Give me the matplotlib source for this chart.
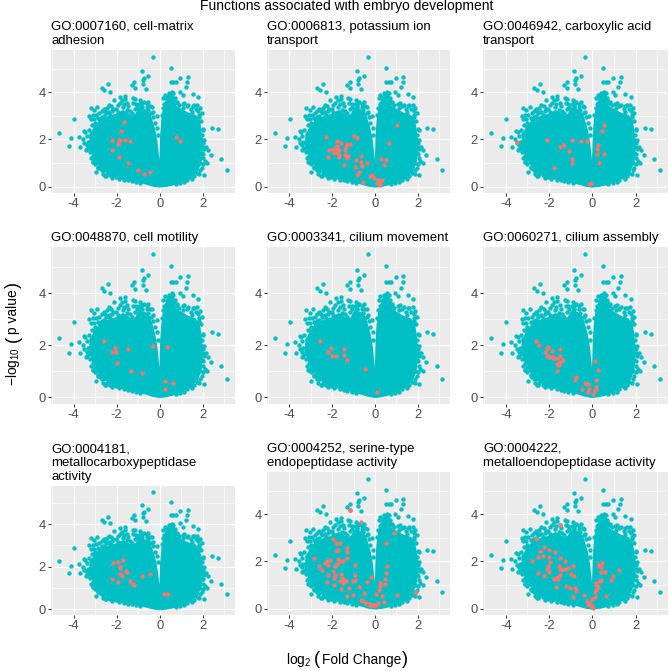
#!/usr/bin/env python3
"""Volcano plots of GO terms associated with embryo development."""

import matplotlib
matplotlib.use('Agg')  # Use non-GUI backend
import matplotlib.pyplot as plt

plt.rcParams['font.family'] = ['Liberation Sans', 'DejaVu Sans']
plt.rcParams['mathtext.fontset'] = 'custom'
plt.rcParams['mathtext.rm'] = 'Liberation Sans'
plt.rcParams['mathtext.it'] = 'Liberation Sans'
plt.rcParams['mathtext.bf'] = 'Liberation Sans'
plt.rcParams['axes.unicode_minus'] = False

TEAL = '#00BFC4'
RED = '#F8766D'
W, H = 669, 671

# Outline of the solid part of the cloud, where single genes cannot be told apart
core_x = [0.02, 0.05, 0.07, 0.12, 0.18, 0.30, 0.45, 0.62, 0.72, 1.00, 1.30, 1.65, 1.82, 1.88, 1.95,
          1.95, 1.90, 1.75, 1.45, 1.00, 0.60, 0.30, 0.00, -0.30, -0.60, -1.00, -1.50, -2.00, -2.30,
          -2.60, -2.90, -3.10, -3.25, -3.20, -3.05, -2.80, -2.40, -2.00, -1.70, -1.50, -1.30, -1.10,
          -0.95, -0.70, -0.50, -0.38, -0.25, -0.15, -0.07, -0.03]
core_y = [0.80, 1.50, 2.20, 2.80, 3.20, 3.60, 3.95, 3.90, 3.40, 3.25, 3.10, 3.00, 2.80, 2.50, 2.00,
          1.50, 1.05, 0.70, 0.42, 0.22, 0.09, 0.03, 0.00, 0.04, 0.12, 0.22, 0.33, 0.45, 0.55,
          0.70, 1.10, 1.40, 1.80, 2.20, 2.45, 2.75, 2.95, 3.05, 3.20, 3.10, 2.95, 3.05,
          3.30, 3.25, 3.10, 2.80, 2.40, 1.90, 1.20, 0.80]

# Genes that stand clear of the core, same in every panel
gene_x = [-0.33, 0.51, -0.84, -0.54, -0.73, -0.79, -1.18, -1.30, -0.79, -0.65, -1.15, -2.42, -2.70,
          -2.57, -2.29, 1.32, 0.96, 0.51, 0.64, 0.74, 1.29, 1.21, 0.95, 1.07, 1.53, 1.77, -3.98,
          -4.67, -4.11, -4.23, -3.75, -3.69, -3.53, -3.43, -3.21, -3.27, -3.09, -3.05, -2.90, 2.43,
          2.71, 2.03, 2.87, 3.13, -2.98, -2.78, -2.50, -3.30, -3.20, -3.40, -3.55, -3.35, -3.20,
          -3.30, -3.05, -3.10, -3.00, -2.90, -2.75, -2.60, -3.00, -3.00, -2.85, -2.70, -2.70, -2.60,
          -2.50, -2.35, -2.20, -2.12, -1.84, -1.61, -1.61, -2.36, -2.03, -1.66, -1.72, -1.53, -1.26,
          -1.15, -1.22, -0.91, -0.73, -0.53, -0.36, -0.33, -0.14, -0.53, -1.07, -0.84, -0.60, -0.99,
          -0.68, 0.25, 0.17, 0.48, 0.64, 0.28, 0.67, 0.79, 1.07, 1.33, 1.53, 1.75, 1.88, 1.84, 1.84,
          1.95, 2.06, 1.88, 2.14, 2.26, 2.37, 2.22, 2.06, 1.88, 2.03, 1.95, 2.03, 1.88, 1.72, 1.41,
          1.13, -2.08, -1.97, -1.81, -2.17, -1.60, -1.37, -1.06, -2.25, -2.55, -2.62, -2.85, -3.12,
          -3.45, -3.50, -3.40, -3.38, -3.25, -3.20, -3.10, -3.00, -2.85, -2.70, -2.65, -2.45, -2.30,
          -2.20, -2.05, -1.90, -1.75, -1.65, -1.45, -1.30, -1.10, -0.90, -3.15, -3.20, -3.05, -2.95,
          -2.80, -2.55, -2.45, -2.25, -2.15, -1.95, -1.85, -1.75, -1.50, -1.45, -1.40, -1.30, -1.15,
          -1.10, -0.95, -0.80, -0.60, -0.45, -0.40, -0.30, -0.22, -0.12, -0.10, 0.10, 0.15, 0.22,
          0.35, 0.42, 0.55, 0.70, 0.80, 0.90, 1.15, 1.25, 1.45, 1.60, 1.70, 1.80, 1.95, 1.92, 2.00,
          1.98, 2.02, 2.05, 2.00, 2.10, 2.00, 1.95, 1.85, 1.60, 1.50, 1.25, 0.95, 0.75,
          -2.80, -2.60, -2.30, -1.95, 1.10, 1.50, -0.85, -0.55]
gene_y = [5.51, 5.04, 4.89, 4.70, 4.59, 4.52, 4.45, 4.31, 4.34, 4.14, 4.18, 4.35, 4.19,
          4.10, 4.03, 4.66, 4.62, 4.45, 4.42, 4.42, 4.43, 4.21, 4.03, 3.88, 3.93, 3.79, 2.88,
          2.29, 2.05, 1.71, 2.12, 1.69, 2.37, 1.55, 3.35, 3.01, 3.04, 3.25, 3.39, 2.49,
          2.43, 2.39, 1.19, 0.71, 0.62, 0.78, 0.47, 2.40, 2.25, 2.15, 2.00, 1.90, 1.75,
          1.65, 1.50, 1.30, 1.15, 1.05, 0.95, 0.80, 2.70, 2.55, 2.90, 2.95, 3.20, 3.30,
          3.10, 3.15, 3.20, 3.67, 3.81, 3.86, 3.71, 3.46, 3.30, 3.49, 3.36, 3.25, 3.74,
          3.70, 3.53, 3.67, 3.60, 3.60, 3.39, 3.18, 2.99, 3.04, 3.39, 3.39, 3.39, 3.10,
          3.18, 3.88, 3.74, 3.91, 3.95, 3.53, 3.67, 3.53, 3.50, 3.46, 3.42, 3.46, 3.32, 3.04, 2.94,
          1.98, 1.98, 1.84, 1.69, 1.55, 1.34, 0.99, 0.49, 0.71, 1.20, 1.41, 1.69, 0.99, 0.56, 0.42,
          0.21, 0.56, 0.53, 0.42, 0.50, 0.43, 0.35, 0.28, 0.72, 0.47, 0.68, 0.85, 1.05,
          2.30, 1.85, 1.75, 1.60, 1.45, 1.20, 1.05, 0.95, 0.80, 0.70, 0.55, 0.55, 0.48,
          0.38, 0.42, 0.33, 0.42, 0.30, 0.27, 0.25, 0.20, 0.15, 2.60, 2.85, 2.85, 3.05,
          3.10, 3.20, 3.35, 3.40, 3.30, 3.45, 3.55, 3.65, 3.55, 3.40, 3.20, 3.10, 3.30,
          3.50, 3.50, 3.55, 3.50, 3.40, 3.10, 2.95, 2.70, 2.50, 2.20, 3.05, 3.35, 3.50,
          3.75, 3.95, 4.00, 3.75, 3.60, 3.45, 3.55, 3.40, 3.30, 3.45, 3.30, 3.20, 3.10, 2.80, 2.45,
          2.20, 1.85, 1.60, 1.40, 1.10, 0.95, 0.80, 0.55, 0.45, 0.33, 0.30, 0.15, 0.10,
          2.85, 2.98, 3.05, 3.15, 3.35, 3.15, 3.40, 3.25]

titles = ['GO:0007160, cell-matrix\nadhesion', 'GO:0006813, potassium ion\ntransport',
          'GO:0046942, carboxylic acid\ntransport', 'GO:0048870, cell motility',
          'GO:0003341, cilium movement', 'GO:0060271, cilium assembly',
          'GO:0004181,\nmetallocarboxypeptidase\nactivity', 'GO:0004252, serine-type\nendopeptidase activity',
          'GO:0004222,\nmetalloendopeptidase activity']

# Genes in each GO term: (log2 fold change, -log10 p)
hits = [
    [(-1.66, 2.73), (-1.78, 2.34), (-2.22, 1.96), (-1.88, 1.98), (-1.85, 1.96), (-1.60, 1.96), (-1.40, 1.93),
     (-1.94, 1.79), (-2.22, 1.55), (-1.88, 1.27), (-1.49, 0.99), (-1.02, 0.69), (-0.74, 0.54), (-0.45, 0.64),
     (0.76, 2.12), (0.96, 1.94)],
    [(-2.31, 2.09), (-1.77, 1.92), (-0.99, 2.16), (-0.84, 2.06), (1.04, 2.60), (0.65, 1.84), (-1.61, 1.86),
     (-1.33, 1.81), (-1.15, 1.79), (-1.38, 1.67), (-1.41, 1.55), (-2.14, 1.54), (-1.98, 1.58), (-1.88, 1.65),
     (-1.77, 1.72), (-1.83, 1.62), (-1.70, 1.57), (-1.92, 1.44), (-1.77, 1.44), (-1.67, 1.34), (-1.70, 1.24),
     (-2.21, 1.24), (-1.41, 1.33), (-1.26, 1.30), (-1.33, 1.20), (-1.44, 0.93), (-0.65, 1.30), (-0.87, 1.12),
     (-0.67, 1.06), (-0.94, 0.85), (-0.59, 0.88), (-0.36, 0.99), (-0.74, 0.64), (-0.84, 0.48), (-0.25, 0.47),
     (-0.15, 0.51), (-0.06, 0.37), (-0.56, 0.21), (0.12, 0.27), (0.31, 0.27), (0.25, 0.23), (0.08, 0.17),
     (0.25, 0.07), (0.26, 1.17), (0.53, 1.12), (0.43, 0.90)],
    [(-3.47, 1.88), (-2.08, 1.96), (-0.95, 1.96), (-0.54, 1.93), (-0.23, 1.92), (-1.32, 1.77), (-1.50, 1.67),
     (-1.09, 1.50), (-0.95, 1.19), (-0.95, 0.99), (-1.77, 0.81), (0.53, 2.60), (0.47, 2.34), (0.26, 1.75),
     (0.20, 1.60), (0.20, 1.38), (0.54, 1.38), (0.31, 0.99), (-0.17, 0.13), (-0.05, 0.16)],
    [(-2.60, 2.15), (-2.08, 1.90), (-2.20, 1.74), (-2.02, 1.74), (-1.49, 1.85), (-0.31, 1.95), (0.33, 1.94),
     (-1.97, 1.31), (-1.32, 1.00), (-0.84, 0.94), (0.26, 0.60), (0.60, 0.53), (0.26, 0.31)],
    [(-2.58, 2.15), (-2.06, 1.90), (-2.18, 1.74), (-2.03, 1.59), (-1.82, 1.59), (-1.47, 1.85), (-1.45, 1.61),
     (-1.33, 1.44), (-0.49, 1.07), (0.08, 0.19)],
    [(-2.60, 2.16), (-2.44, 1.99), (-2.04, 1.93), (-2.09, 1.90), (-1.49, 1.85), (-1.86, 1.76), (-2.20, 1.72),
     (-2.09, 1.59), (-2.01, 1.54), (-1.86, 1.54), (-1.75, 1.52), (-1.63, 1.50), (-1.50, 1.57), (-1.36, 1.44),
     (-1.47, 1.35), (-1.63, 1.29), (-1.55, 1.22), (-1.61, 1.00), (0.12, 1.38), (0.26, 1.05), (-0.76, 0.76),
     (-0.82, 0.64), (-0.33, 0.53), (-0.20, 0.50), (-0.47, 0.32), (-0.15, 0.32), (-0.20, 0.21), (0.05, 0.13),
     (0.16, 0.64), (0.16, 0.39), (0.19, 0.32), (0.14, 0.26)],
    [(-2.16, 2.15), (-1.92, 2.21), (-1.72, 2.32), (-1.84, 1.99), (-1.84, 1.94), (-1.58, 1.82), (-1.50, 1.74),
     (-1.84, 1.65), (-1.74, 1.55), (-2.22, 1.41), (-1.95, 1.27), (-1.40, 1.33), (-1.22, 1.18), (-1.19, 1.14),
     (-0.84, 1.58), (-0.43, 1.65), (0.22, 0.71), (0.40, 0.72)],
    [(-1.16, 4.18), (-0.68, 3.66), (0.87, 3.19), (0.50, 2.78), (-1.95, 2.94), (-1.82, 2.80), (-1.64, 2.80),
     (-1.31, 2.57), (-1.31, 2.40), (-1.72, 2.47), (-1.82, 2.44), (-2.87, 2.15), (-1.30, 2.15), (-1.73, 2.10),
     (-1.64, 2.00), (-1.52, 2.00), (-2.10, 2.05), (-2.26, 2.00), (-2.33, 1.93), (-2.18, 1.86), (-1.79, 1.90),
     (-1.86, 1.79), (-2.64, 1.82), (-2.49, 1.65), (-0.96, 1.86), (0.57, 1.81), (-1.95, 1.58), (-2.18, 1.41),
     (-1.87, 1.44), (-1.92, 1.30), (-1.58, 1.47), (-1.56, 1.30), (-1.41, 1.23), (-0.96, 1.44), (-1.05, 1.19),
     (-0.93, 1.21), (-2.23, 1.12), (-1.64, 1.16), (-1.49, 1.09), (-1.92, 1.02), (-1.36, 1.16), (-1.61, 0.85),
     (-1.22, 0.88), (-0.74, 0.90), (-0.39, 1.12), (-0.19, 1.34), (0.51, 1.51), (0.45, 1.26), (0.45, 1.06),
     (0.25, 1.09), (0.22, 0.95), (0.19, 0.80), (0.02, 0.64), (-0.53, 0.66), (-1.30, 0.52), (-1.02, 0.59),
     (0.31, 0.52), (1.02, 0.59), (1.92, 0.71), (-0.64, 0.35), (-0.56, 0.31), (-0.43, 0.24), (-0.22, 0.21),
     (-0.09, 0.17), (0.02, 0.14), (0.12, 0.24), (0.40, 0.28), (-0.06, 0.10), (-0.25, 0.14)],
    [(-1.50, 3.56), (-2.60, 2.97), (-2.21, 2.61), (-2.40, 2.46), (-2.00, 2.47), (-1.72, 2.42), (-2.80, 2.00),
     (-2.52, 2.19), (-2.27, 2.22), (-2.00, 2.19), (-1.47, 2.16), (-1.25, 2.02), (-1.96, 1.99), (-0.88, 1.82),
     (-2.06, 1.79), (-1.53, 1.82), (-1.13, 1.72), (-1.28, 1.68), (-1.39, 1.65), (-1.50, 1.68), (-2.09, 1.69),
     (-2.50, 1.51), (-2.00, 1.54), (-2.21, 1.40), (-0.98, 1.47), (-0.85, 1.37), (-1.50, 1.44), (-1.60, 1.34),
     (-1.69, 1.31), (-1.78, 1.25), (-1.60, 1.25), (-1.69, 0.92), (-1.21, 0.97), (-1.05, 0.89), (-0.79, 0.86),
     (-0.76, 0.73), (-0.88, 0.48), (-0.36, 0.57), (0.33, 1.88), (0.47, 1.92), (0.39, 1.77), (0.31, 1.82),
     (0.42, 1.54), (0.60, 1.55), (1.22, 1.64), (0.96, 1.37), (0.85, 1.20), (0.39, 1.23), (0.36, 1.16),
     (0.19, 1.09), (0.17, 0.99), (0.26, 0.92), (0.19, 0.80), (0.14, 0.69), (0.64, 0.52), (0.11, 0.49),
     (-0.02, 0.41), (-0.23, 0.32), (-0.14, 0.24), (-0.08, 0.17), (0.00, 0.10), (-0.20, 0.21), (0.05, 0.03)],
]

# Panel edges in pixels of the figure: left, right, top, bottom
col_edges = [(51, 235), (267, 450), (483, 668)]
row_edges = [(50, 193), (247, 404), (472, 615)]


def draw_panel(ax, title, points):
    """Draw one volcano panel with its GO term on top."""
    ax.set_facecolor('#EBEBEB')
    for side in ax.spines.values():
        side.set_visible(False)
    ax.set_axisbelow(True)
    ax.set_xlim(-5.05, 3.5)
    ax.set_ylim(-0.27, 5.79)
    ax.set_xticks([-4, -2, 0, 2])
    ax.set_yticks([0, 2, 4])
    ax.set_xticks([-5, -3, -1, 1, 3], minor=True)
    ax.set_yticks([1, 3, 5], minor=True)
    ax.grid(which='major', color='white', lw=0.8)
    ax.grid(which='minor', color='white', lw=0.4)
    ax.tick_params(which='minor', length=0)
    ax.tick_params(which='major', length=2.2, width=0.7, color='#333333',
                   labelcolor='#4D4D4D', labelsize=9.4, pad=1.5)

    ax.fill(core_x, core_y, color=TEAL, lw=1.5, zorder=2)
    ax.scatter(gene_x, gene_y, s=10, color=TEAL, linewidths=0, zorder=3)
    ax.scatter([p[0] for p in points], [p[1] for p in points], s=10, color=RED, linewidths=0, zorder=4)
    ax.set_title(title, loc='left', fontsize=9.45, color='black', pad=4.5, linespacing=1.2)


def main():
    fig = plt.figure(figsize=(W / 100, H / 100), dpi=100)

    for i, (title, points) in enumerate(zip(titles, hits)):
        left, right = col_edges[i % 3]
        top, bottom = row_edges[i // 3]
        if i == 6:
            top = 486  # three line title takes more room
        ax = fig.add_axes([left / W, 1 - bottom / H, (right - left) / W, (bottom - top) / H])
        draw_panel(ax, title, points)

    fig.text(347 / W, 1 - 6 / H, 'Functions associated with embryo development',
             ha='center', va='center', fontsize=10)

    # Axis labels in pieces, mathtext keeps the brackets too small around plain text
    x_row = 1 - 660 / H
    fig.text(286 / W, x_row, r'$\log_{2}$', ha='left', va='center', fontsize=9.9)
    fig.text(316.5 / W, x_row, '(', ha='center', va='center', fontsize=13)
    fig.text(322 / W, x_row, 'Fold Change', ha='left', va='center', fontsize=9.9)
    fig.text(405 / W, x_row, ')', ha='center', va='center', fontsize=13)

    y_col = 13 / W
    fig.text(y_col, 1 - 386 / H, r'$-\log_{10}$', ha='center', va='bottom', rotation=90, fontsize=9.9)
    fig.text(y_col, 1 - 339 / H, '(', ha='center', va='center', rotation=90, fontsize=13)
    fig.text(y_col, 1 - 334 / H, 'p value', ha='center', va='bottom', rotation=90, fontsize=9.9)
    fig.text(y_col, 1 - 285 / H, ')', ha='center', va='center', rotation=90, fontsize=13)

    fig.savefig('out.png', dpi=100)
    plt.close(fig)


if __name__ == "__main__":
    main()
